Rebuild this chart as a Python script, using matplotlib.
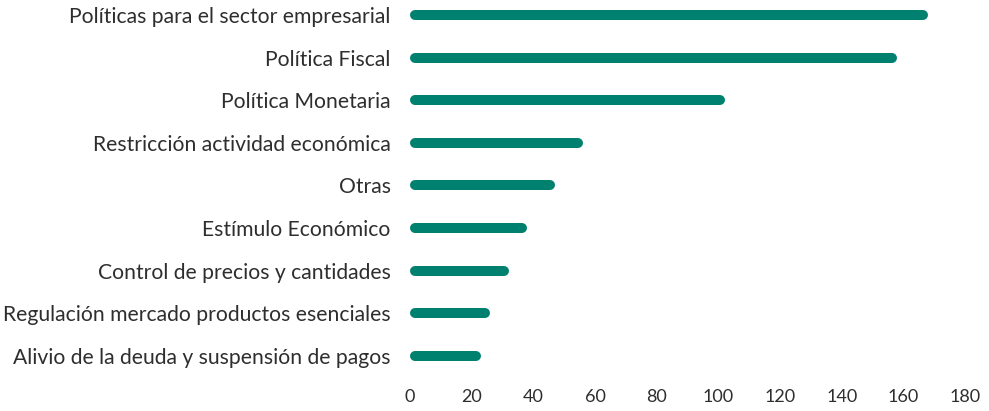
import matplotlib.pyplot as plt
import numpy as np

plt.rcParams['font.family'] = ['Lato', 'DejaVu Sans']

categorias = [
    "Políticas para el sector empresarial",
    "Política Fiscal",
    "Política Monetaria",
    "Restricción actividad económica",
    "Otras",
    "Estímulo Económico",
    "Control de precios y cantidades",
    "Regulación mercado productos esenciales",
    "Alivio de la deuda y suspensión de pagos",
]
valores = [168, 158, 102, 56, 47, 38, 32, 26, 23]
xticks = [0, 20, 40, 60, 80, 100, 120, 140, 160, 180]

color_barra = "#00816f"
color_texto = "#2e2e2e"

W, H = 989, 411
fig = plt.figure(figsize=(W / 100, H / 100), dpi=100)
# ejes colocados en pixeles del original
ax = fig.add_axes([410 / W, (H - 375) / H, (965 - 410) / W, 375 / H])

y = np.arange(len(categorias))
ax.set_xlim(0, 180)
ax.set_ylim(8.446, -0.352)

# grosor de barra en px -> puntos, y radio del extremo en unidades de datos
grosor_px = 10
px_por_unidad = ax.get_window_extent().width / 180
r = (grosor_px / 2) / px_por_unidad
ax.hlines(y, [r] * len(valores), np.array(valores) - r, colors=color_barra,
          linewidth=grosor_px * 72 / 100, capstyle="round")

ax.set_yticks(y)
ax.set_yticklabels(categorias, fontsize=15.2, color=color_texto)
ax.set_xticks(xticks)
ax.set_xticklabels([str(t) for t in xticks], fontsize=13, color=color_texto)
ax.tick_params(axis="y", length=0, pad=14)
ax.tick_params(axis="x", length=0, pad=10)
for s in ax.spines.values():
    s.set_visible(False)

fig.savefig("out.png", dpi=100, facecolor="white")
